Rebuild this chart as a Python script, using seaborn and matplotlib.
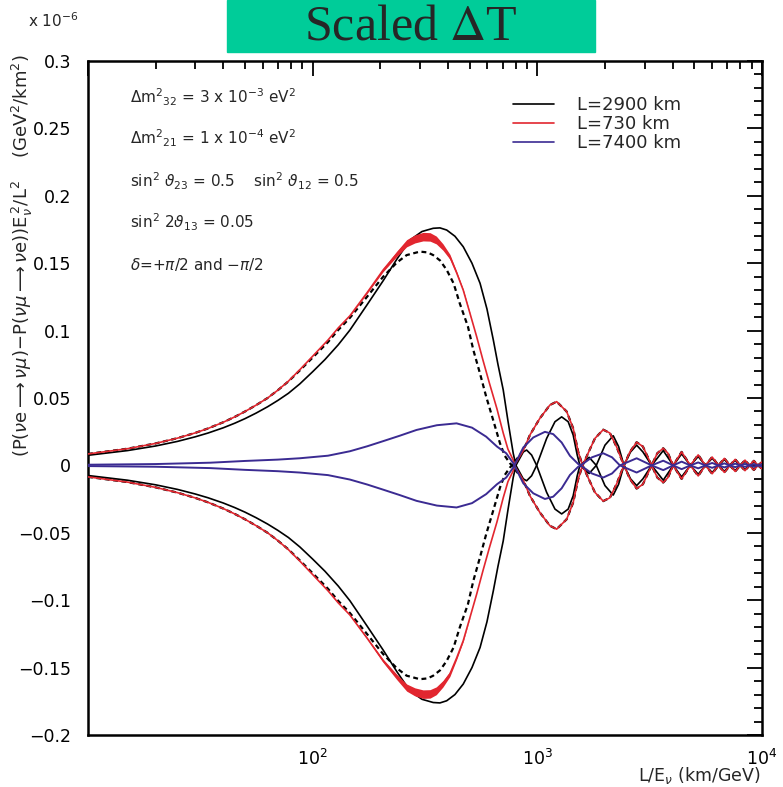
import numpy as np
import pandas as pd
import seaborn as sns
import matplotlib
matplotlib.use("Agg")
import matplotlib.pyplot as plt
from matplotlib.lines import Line2D
from matplotlib.patches import Rectangle
from matplotlib.ticker import FixedLocator, LogLocator, NullFormatter, MultipleLocator

# ---- scaled T-asymmetry (units of 1e-6 GeV^2/km^2) vs L/E (km/GeV), delta = +pi/2 branch ----
le_black = [10, 15, 20, 25, 30, 34.2, 40, 45, 50, 56, 63, 70, 78, 87.7, 100, 113.4, 130, 146.5, 174.4,
            206, 237, 271, 306.5, 344, 368.6, 395, 429.8, 468, 511.7, 556, 596.8, 637, 667.8, 705,
            740, 781, 803,
            866, 896, 943, 993, 1100, 1198, 1283, 1372, 1444, 1505, 1547,
            1700, 1830, 2000, 2177, 2300, 2429, 2600, 2767, 2950, 3227, 3634, 4025, 4387, 4800, 5200,
            5600, 6000, 6400, 6800, 7200, 7600, 8000, 8400, 8800, 9200, 9600, 10000]
val_black = [0.0075, 0.011, 0.0144, 0.0178, 0.0212, 0.024, 0.0279, 0.0313, 0.0347, 0.0388, 0.0435,
             0.0482, 0.0535, 0.0605, 0.0695, 0.0785, 0.0895, 0.1004, 0.119,
             0.137, 0.153, 0.1672, 0.1735, 0.1759, 0.1762, 0.1746, 0.170, 0.1622, 0.150, 0.1351,
             0.116, 0.093, 0.075, 0.056, 0.033, 0.009, 0.0,
             -0.010, -0.0114, -0.0077, 0.0, 0.020, 0.0324, 0.036, 0.0324, 0.0225, 0.0077, 0.0,
             -0.006, 0.0, 0.015, 0.022, 0.014, 0.0, -0.010, -0.015, -0.010, 0.0, 0.011, 0.0, -0.0085,
             0.0, 0.0066, 0.0, -0.0053, 0.0, 0.0044, 0.0, -0.0038, 0.0, 0.0033, 0.0, -0.0029, 0.0, 0.002]

le_dash = [10, 15, 20, 25, 30, 34.2, 40, 45, 50, 56, 63, 70, 78, 87.7, 100, 117, 130, 146.5, 174.4,
           206, 237, 262, 300, 325, 344, 369, 395, 424, 452, 491, 519, 556, 592, 635, 682, 717, 755,
           771,
           866, 927, 1027, 1138, 1219, 1350, 1444, 1521, 1590,
           1714, 1804, 1965, 2104, 2250, 2429, 2583, 2767, 2950, 3227, 3420, 3634, 3813, 4025,
           4387, 4800, 5200, 5600, 6000, 6400, 6800, 7200, 7600, 8000, 8400, 8800, 9200, 9600, 10000]
val_dash = [0.0085, 0.0124, 0.0163, 0.0202, 0.0241, 0.0274, 0.032, 0.036, 0.040, 0.0447, 0.050, 0.0558,
            0.0623, 0.0705, 0.080, 0.0915, 0.1005, 0.1095, 0.125,
            0.140, 0.1505, 0.156, 0.1586, 0.158, 0.156, 0.152, 0.145, 0.135, 0.120, 0.103, 0.0856,
            0.068, 0.051, 0.034, 0.0164, 0.007, 0.0016, 0.0,
            -0.011, -0.0226, -0.035, -0.0448, -0.0473, -0.040, -0.0275, -0.010, 0.0,
            0.012, 0.020, 0.0265, 0.024, 0.014, 0.0, -0.010, -0.0172, -0.014, 0.0, 0.009, 0.0127, 0.009,
            0.0, -0.0100, 0.0, 0.0078, 0.0, -0.0062, 0.0, 0.0052, 0.0, -0.0045, 0.0, 0.0039, 0.0,
            -0.0034, 0.0, 0.0025]

le_red = [10, 15, 20, 25, 30, 34.2, 40, 45, 50, 56, 63, 70, 78, 87.7, 100, 117, 130, 146.5, 174.4,
          206, 237, 262, 285, 310, 333, 355, 380, 408, 437, 468, 501, 537, 573, 612, 661, 705, 740,
          781, 790,
          866, 927, 1027, 1138, 1219, 1350, 1444, 1521, 1590,
          1714, 1804, 1965, 2104, 2250, 2429, 2583, 2767, 2950, 3227, 3420, 3634, 3813, 4025,
          4387, 4800, 5200, 5600, 6000, 6400, 6800, 7200, 7600, 8000, 8400, 8800, 9200, 9600, 10000]
val_red = [0.0085, 0.0124, 0.0163, 0.0202, 0.0241, 0.0274, 0.032, 0.036, 0.040, 0.0447, 0.050, 0.0558,
           0.0625, 0.071, 0.081, 0.093, 0.102, 0.111, 0.128,
           0.145, 0.157, 0.1648, 0.168, 0.1697, 0.1695, 0.1672, 0.162, 0.1548, 0.143, 0.130, 0.113,
           0.0955, 0.078, 0.061, 0.042, 0.024, 0.012, 0.004, 0.0,
           -0.011, -0.0226, -0.035, -0.0448, -0.0473, -0.040, -0.0275, -0.010, 0.0,
           0.012, 0.020, 0.0265, 0.024, 0.014, 0.0, -0.010, -0.0172, -0.014, 0.0, 0.009, 0.0127, 0.009,
           0.0, -0.0100, 0.0, 0.0078, 0.0, -0.0062, 0.0, 0.0052, 0.0, -0.0045, 0.0, 0.0039, 0.0,
           -0.0034, 0.0, 0.0025]

le_blue = [10, 20, 35, 50, 70, 87.7, 117, 146.5, 175, 206, 244, 290, 357, 437, 512, 592, 661, 727, 781,
           790,
           866, 959, 1081, 1177, 1283, 1397, 1521, 1560,
           1750, 1965, 2150, 2332, 2767, 3227, 3634, 4025, 4387, 4800, 5200, 5600, 6000, 6400,
           6800, 7200, 7600, 8000, 8400, 8800, 9200, 9600, 10000]
val_blue = [0.0005, 0.001, 0.002, 0.0033, 0.0043, 0.0053, 0.0072, 0.0105, 0.0142, 0.018, 0.022, 0.0263,
            0.0298, 0.0312, 0.028, 0.0213, 0.014, 0.009, 0.0016, 0.0,
            -0.0133, -0.0207, -0.0249, -0.0232, -0.017, -0.0071, -0.001, 0.0,
            0.006, 0.009, 0.006, 0.0, -0.0053, 0.0, 0.0035, 0.0, -0.0028, 0.0, 0.0022, 0.0, -0.0018,
            0.0, 0.0015, 0.0, -0.0013, 0.0, 0.0011, 0.0, -0.001, 0.0, 0.0008]

curves = {
    "L=2900 km": (le_black, val_black),
    "L=2900 km vac": (le_dash, val_dash),
    "L=730 km": (le_red, val_red),
    "L=7400 km": (le_blue, val_blue),
}

# both CP phases: the delta = -pi/2 branch is the mirror image
rows = []
for name, (xs, ys) in curves.items():
    for sign, tag in ((1, "+"), (-1, "-")):
        for x, y in zip(xs, ys):
            rows.append({"curve": name, "delta": tag, "LE": x, "dT": sign * y})
df = pd.DataFrame(rows)

BLACK = "#000000"
RED = "#E2262F"
BLUE = "#3B2B92"
TEAL = "#00CC99"

sns.set_style("white")
plt.rcParams["font.family"] = ["DejaVu Sans"]

fig = plt.figure(figsize=(7.83, 7.87), dpi=100)
ax = fig.add_axes([88 / 783, 52 / 787, 674 / 783, 674 / 787])


def draw(name, color, lw, ls="-", z=2):
    for tag in ("+", "-"):
        sub = df[(df.curve == name) & (df.delta == tag)]
        sns.lineplot(data=sub, x="LE", y="dT", ax=ax, color=color, lw=lw, linestyle=ls,
                     estimator=None, sort=False, legend=False, zorder=z)


draw("L=2900 km", BLACK, 1.2, "-", 2)
draw("L=2900 km vac", BLACK, 1.6, (0, (2.2, 1.6)), 3)
draw("L=730 km", RED, 1.2, "-", 4)

# broadened red band around the maximum
for tag in ("+", "-"):
    sub = df[(df.curve == "L=730 km") & (df.delta == tag) & (df.LE > 140) & (df.LE < 520)]
    y = sub.dT.to_numpy()
    w = 0.0032 * (np.abs(y) / 0.17) ** 6
    ax.fill_between(sub.LE, y - w, y + w, color=RED, lw=0, zorder=4)

draw("L=7400 km", BLUE, 1.4, "-", 5)

ax.set_xscale("log")
ax.set_xlim(10, 1e4)
ax.set_ylim(-0.2, 0.3)
ax.set_xlabel("")
ax.set_ylabel("")

for sp in ax.spines.values():
    sp.set_linewidth(1.8)
    sp.set_color("black")

ax.xaxis.set_major_locator(FixedLocator([10, 100, 1000, 10000]))
ax.xaxis.set_minor_locator(LogLocator(base=10, subs=np.arange(2, 10)))
ax.xaxis.set_minor_formatter(NullFormatter())
ax.set_xticklabels(["", "$10^2$", "$10^3$", "$10^4$"])
ax.yaxis.set_minor_locator(MultipleLocator(0.01))
ylabels = ["\u22120.2", "\u22120.15", "\u22120.1", "\u22120.05", "0", "0.05", "0.1", "0.15", "0.2", "0.25", "0.3"]
ax.set_yticks(np.linspace(-0.2, 0.3, 11))
ax.set_yticklabels(ylabels)
ax.tick_params(which="both", direction="in", top=True, right=True, width=1.3, labelsize=12.5, colors="black")
ax.tick_params(which="major", length=11, pad=12)
ax.tick_params(axis="x", which="major", pad=10)
ax.tick_params(which="minor", length=6)

# parameter annotations
tk = dict(transform=ax.transAxes, fontsize=11, ha="left", va="baseline")
ax.text(0.062, 0.937, r"$\Delta$m$^2$$_{32}$ = 3 x 10$^{-3}$ eV$^2$", **tk)
ax.text(0.062, 0.877, r"$\Delta$m$^2$$_{21}$ = 1 x 10$^{-4}$ eV$^2$", **tk)
ax.text(0.062, 0.813, r"sin$^2$ $\vartheta_{23}$ = 0.5    sin$^2$ $\vartheta_{12}$ = 0.5", **tk)
ax.text(0.062, 0.752, r"sin$^2$ 2$\vartheta_{13}$ = 0.05", **tk)
ax.text(0.062, 0.690, r"$\delta$=+$\pi$/2 and $-\pi$/2", **tk)

handles = [Line2D([], [], color=BLACK, lw=1.2), Line2D([], [], color=RED, lw=1.2),
           Line2D([], [], color=BLUE, lw=1.2)]
ax.legend(handles, ["L=2900 km", "L=730 km", "L=7400 km"], loc="upper left",
          bbox_to_anchor=(0.606, 0.972), frameon=False, fontsize=13, handlelength=2.3,
          handletextpad=1.25, labelspacing=0.05, borderpad=0.4)

# axis titles
fig.text(760 / 783, 1 - 781 / 787, r"L/E$_\nu$ (km/GeV)", ha="right", va="baseline", fontsize=12.5)
fig.text(28 / 783, 1 - 27 / 787, r"x 10$^{-6}$", ha="left", va="baseline", fontsize=11)
fig.text(22 / 783, 1 - 256 / 787,
         r"(P($\nu$e$\longrightarrow\nu\mu$)$-$P($\nu\mu\longrightarrow\nu$e))E$_\nu^{\,2}$/L$^2$    (GeV$^2$/km$^2$)",
         rotation=90, ha="center", va="center", fontsize=13)

# title banner
fig.patches.append(Rectangle((227 / 783, 1 - 52 / 787), 368 / 783, 52 / 787, transform=fig.transFigure,
                             color=TEAL, zorder=0))
fig.text(411 / 783, 1 - 40 / 787, r"Scaled $\Delta$T", ha="center", va="baseline", fontsize=36,
         family=["Liberation Serif"], math_fontfamily="stix")

fig.savefig("out.png", dpi=100)
